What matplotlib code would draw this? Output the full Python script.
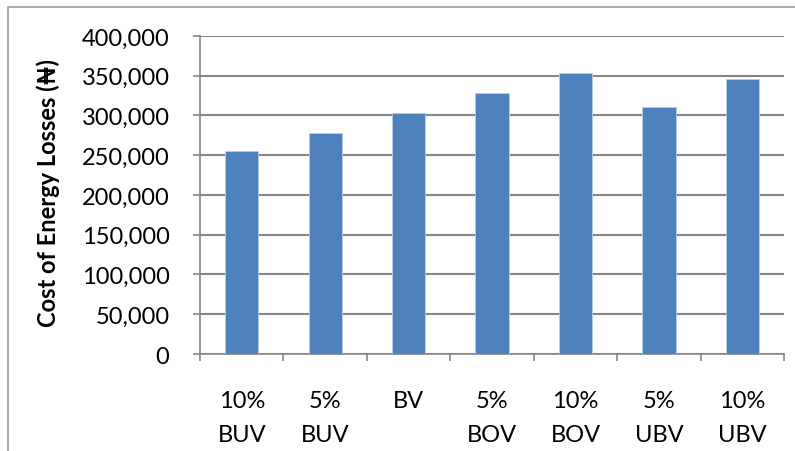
import matplotlib
matplotlib.use("Agg")
import matplotlib.pyplot as plt
from matplotlib.patches import Rectangle
from matplotlib.ticker import FuncFormatter, FixedLocator
import numpy as np

categories = ["10%\nBUV", "5%\nBUV", "BV", "5%\nBOV", "10%\nBOV", "5%\nUBV", "10%\nUBV"]
values = [255500, 278000, 302500, 328000, 354000, 311000, 345500]
y_ticks = [0, 50000, 100000, 150000, 200000, 250000, 300000, 350000, 400000]

plt.rcParams['font.family'] = ['Lato', 'DejaVu Sans']

fig = plt.figure(figsize=(7.95, 4.52), dpi=100)
ax = fig.add_axes([0.2516, 0.2146, 0.735, 0.7036])

x = np.arange(len(categories))
ax.bar(x, values, width=0.4, color="#4F81BD", edgecolor="#B9CDE5", linewidth=0.6, zorder=3)

ax.set_xlim(-0.5, len(categories) - 0.5)
ax.set_ylim(0, 400000)
ax.set_yticks(y_ticks)
ax.yaxis.set_major_formatter(FuncFormatter(lambda v, p: f"{int(v):,}"))
ax.grid(axis="y", color="#868686", linewidth=1.5, zorder=0)

ax.set_xticks(x)
ax.set_xticklabels(categories, fontsize=17, linespacing=1.75, va="top")
ax.xaxis.set_minor_locator(FixedLocator(np.arange(-0.5, len(categories), 1.0)))
ax.tick_params(axis="x", which="major", length=0, pad=26)
ax.tick_params(axis="x", which="minor", length=5, color="#868686", width=1.2)
ax.tick_params(axis="y", length=5, color="#868686", width=1.2, labelsize=17, pad=17)

for s in ["top", "right"]:
    ax.spines[s].set_visible(False)
for s in ["left", "bottom"]:
    ax.spines[s].set_color("#868686")
    ax.spines[s].set_linewidth(1.2)

ax.set_ylabel("Cost of Energy Losses (\u20a6)", fontsize=17, fontweight="bold")
ax.yaxis.set_label_coords(-0.24, 0.51)

fig.patches.append(Rectangle((8/795, -0.1), 1.2, (1 - 8/452) + 0.1, transform=fig.transFigure,
                             fill=False, edgecolor="#A0A0A0", linewidth=1.2))

fig.savefig("out.png", dpi=100)
